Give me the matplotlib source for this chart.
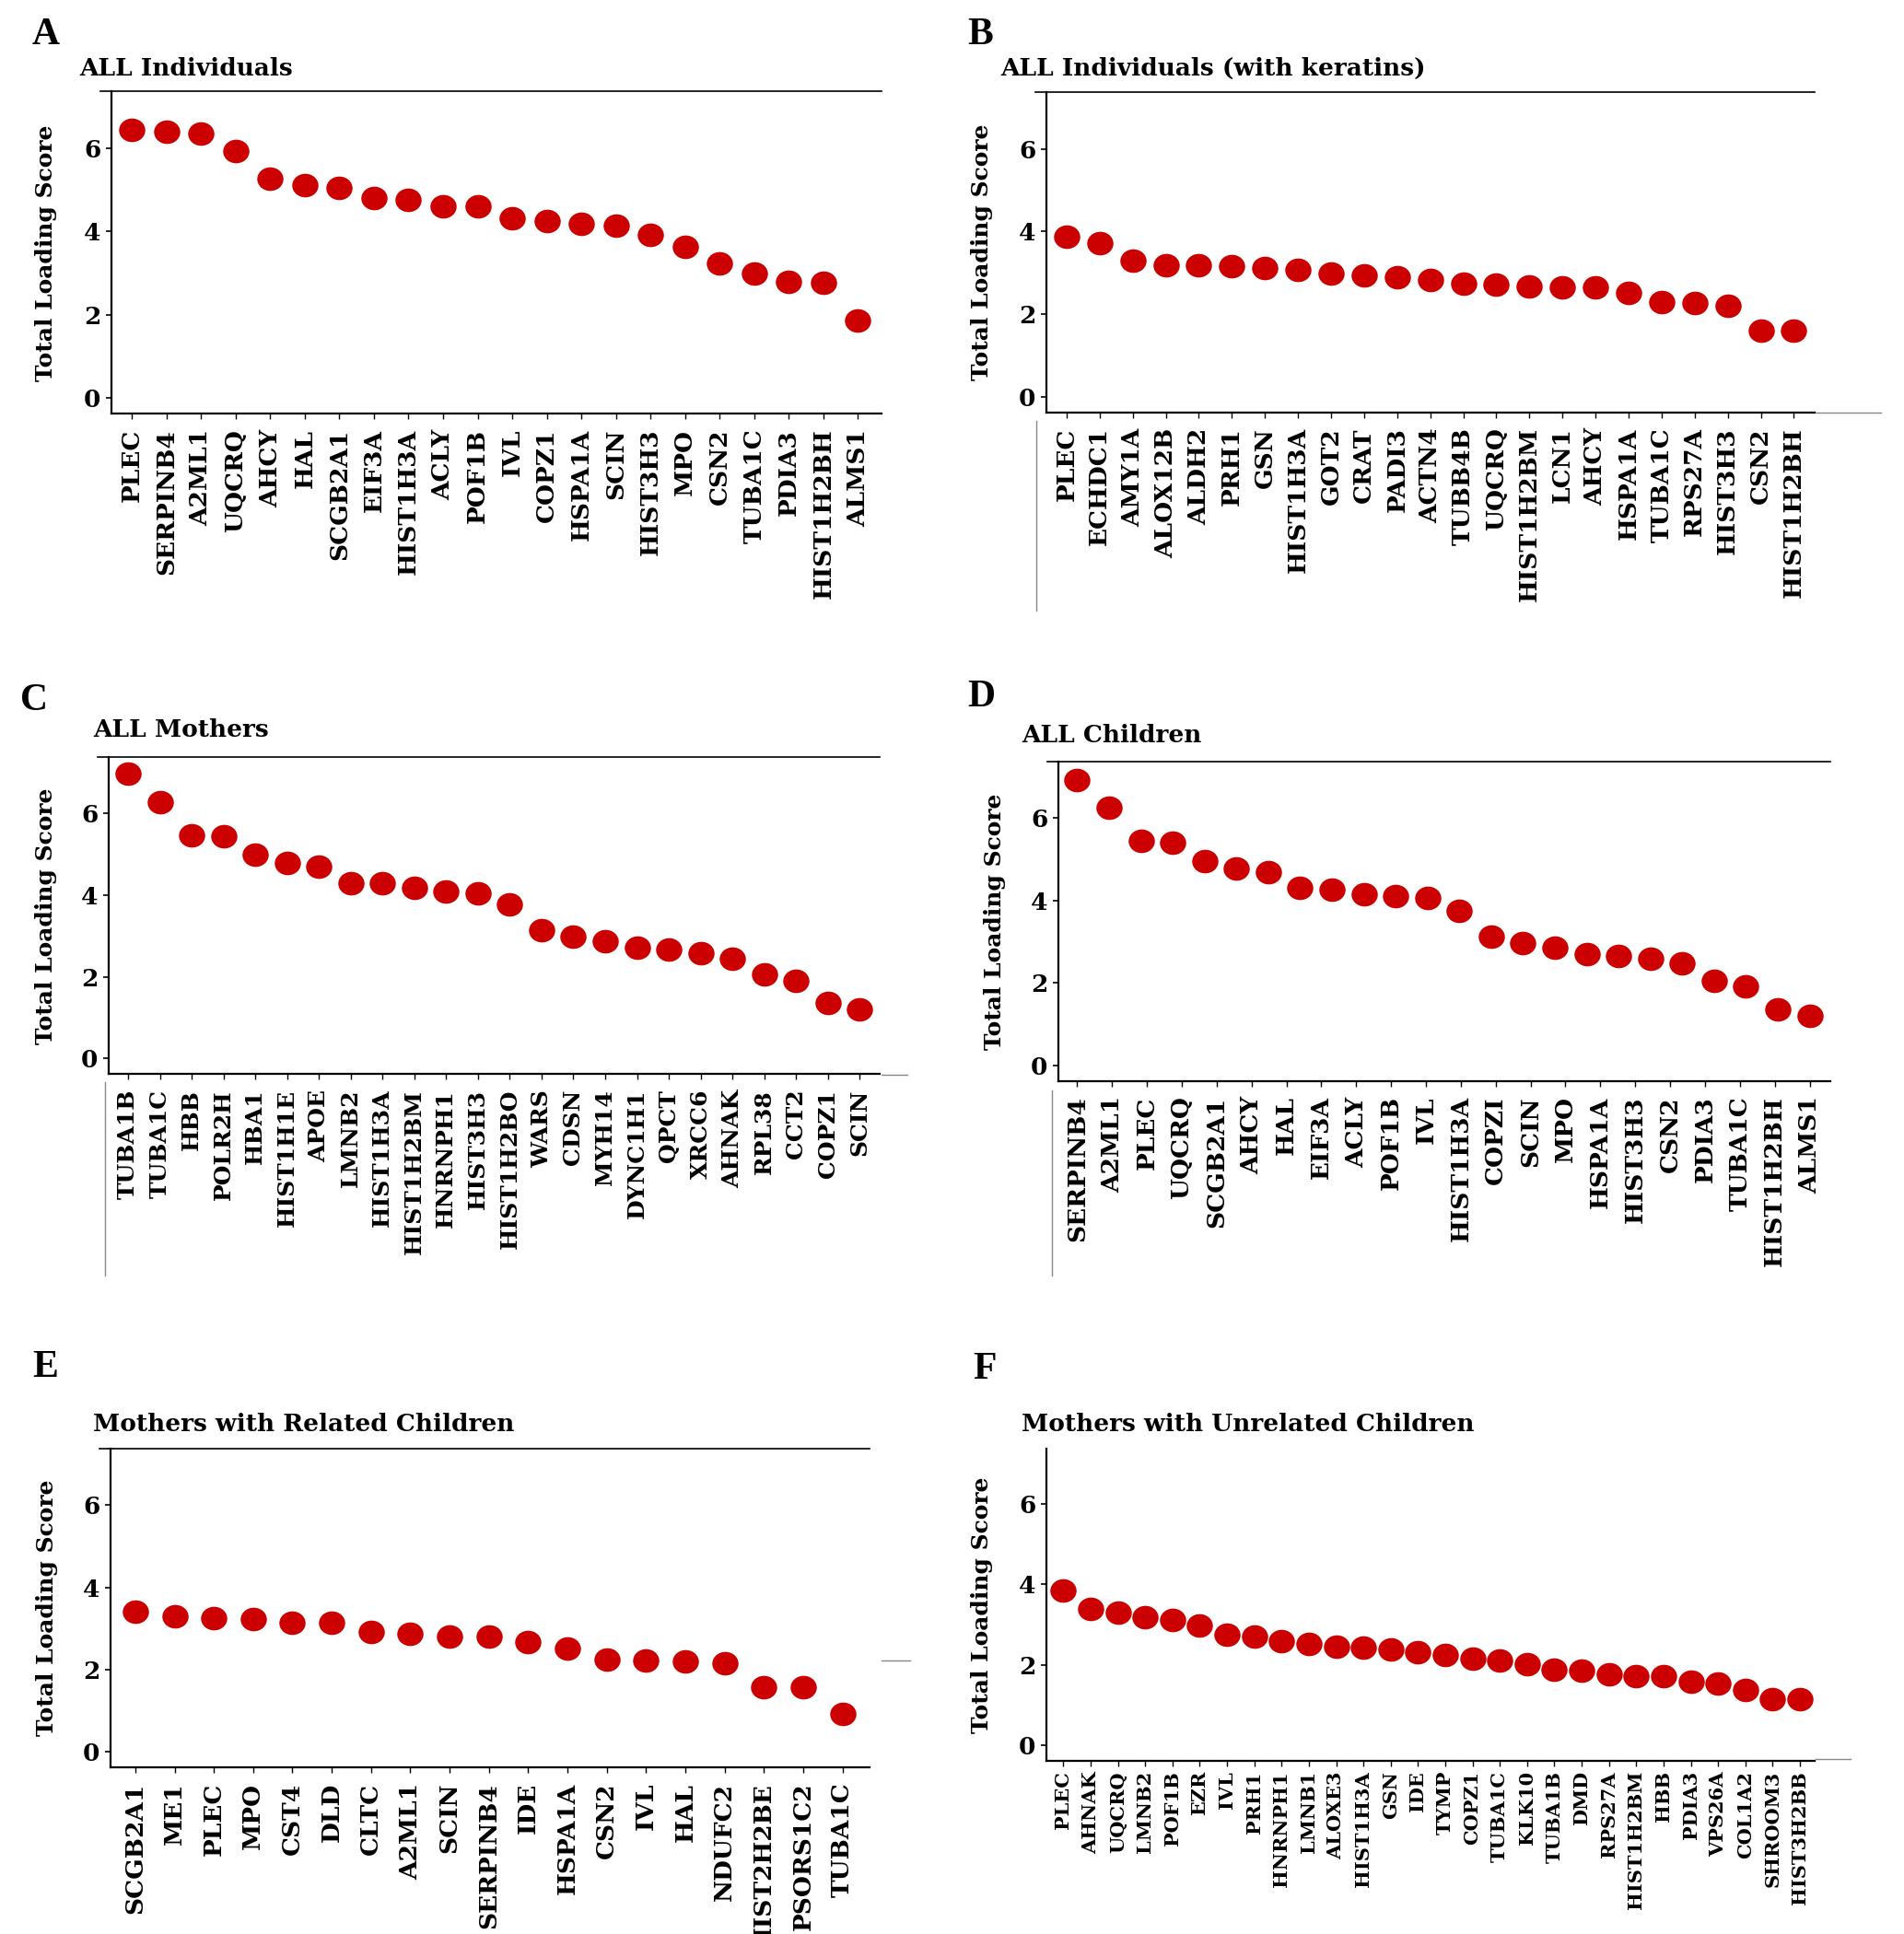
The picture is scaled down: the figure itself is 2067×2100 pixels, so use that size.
import numpy as np
import matplotlib
matplotlib.use("Agg")
import matplotlib.pyplot as plt
from matplotlib.lines import Line2D
from matplotlib.path import Path
from matplotlib.transforms import Affine2D

# =========================
# DATA
# =========================
genes_a = ["PLEC", "SERPINB4", "A2ML1", "UQCRQ", "AHCY", "HAL", "SCGB2A1", "EIF3A",
           "HIST1H3A", "ACLY", "POF1B", "IVL", "COPZ1", "HSPA1A", "SCIN", "HIST3H3",
           "MPO", "CSN2", "TUBA1C", "PDIA3", "HIST1H2BH", "ALMS1"]
score_a = [6.45, 6.40, 6.37, 5.94, 5.27, 5.13, 5.06, 4.81, 4.77, 4.62, 4.60, 4.33,
           4.26, 4.19, 4.14, 3.92, 3.63, 3.23, 3.00, 2.79, 2.76, 1.85]

genes_b = ["PLEC", "ECHDC1", "AMY1A", "ALOX12B", "ALDH2", "PRH1", "GSN", "HIST1H3A",
           "GOT2", "CRAT", "PADI3", "ACTN4", "TUBB4B", "UQCRQ", "HIST1H2BM", "LCN1",
           "AHCY", "HSPA1A", "TUBA1C", "RPS27A", "HIST3H3", "CSN2", "HIST1H2BH"]
score_b = [3.88, 3.71, 3.30, 3.19, 3.19, 3.15, 3.11, 3.07, 2.99, 2.93, 2.90, 2.82,
           2.74, 2.71, 2.67, 2.64, 2.64, 2.52, 2.30, 2.26, 2.19, 1.60, 1.60]

genes_c = ["TUBA1B", "TUBA1C", "HBB", "POLR2H", "HBA1", "HIST1H1E", "APOE", "LMNB2",
           "HIST1H3A", "HIST1H2BM", "HNRNPH1", "HIST3H3", "HIST1H2BO", "WARS", "CDSN",
           "MYH14", "DYNC1H1", "QPCT", "XRCC6", "AHNAK", "RPL38", "CCT2", "COPZ1", "SCIN"]
score_c = [6.96, 6.28, 5.45, 5.43, 4.99, 4.79, 4.69, 4.30, 4.28, 4.17, 4.09, 4.04,
           3.76, 3.13, 2.98, 2.86, 2.72, 2.66, 2.57, 2.44, 2.05, 1.91, 1.35, 1.20]

# panel D: 22 labels over 24 points (as in the original figure)
genes_d = ["SERPINB4", "A2ML1", "PLEC", "UQCRQ", "SCGB2A1", "AHCY", "HAL", "EIF3A",
           "ACLY", "POF1B", "IVL", "HIST1H3A", "COPZI", "SCIN", "MPO", "HSPA1A",
           "HIST3H3", "CSN2", "PDIA3", "TUBA1C", "HIST1H2BH", "ALMS1"]
score_d = [6.92, 6.25, 5.44, 5.41, 4.96, 4.77, 4.68, 4.30, 4.26, 4.16, 4.10, 4.06,
           3.75, 3.12, 2.97, 2.86, 2.70, 2.65, 2.58, 2.47, 2.04, 1.92, 1.35, 1.21]

genes_e = ["SCGB2A1", "ME1", "PLEC", "MPO", "CST4", "DLD", "CLTC", "A2ML1", "SCIN",
           "SERPINB4", "IDE", "HSPA1A", "CSN2", "IVL", "HAL", "NDUFC2", "HIST2H2BE",
           "PSORS1C2", "TUBA1C"]
score_e = [3.40, 3.30, 3.26, 3.22, 3.14, 3.14, 2.92, 2.88, 2.81, 2.81, 2.67, 2.52,
           2.25, 2.23, 2.19, 2.15, 1.58, 1.58, 0.91]

genes_f = ["PLEC", "AHNAK", "UQCRQ", "LMNB2", "POF1B", "EZR", "IVL", "PRH1", "HNRNPH1",
           "LMNB1", "ALOXE3", "HIST1H3A", "GSN", "IDE", "TYMP", "COPZ1", "TUBA1C",
           "KLK10", "TUBA1B", "DMD", "RPS27A", "HIST1H2BM", "HBB", "PDIA3", "VPS26A",
           "COL1A2", "SHROOM3", "HIST3H2BB"]
score_f = [3.85, 3.40, 3.30, 3.19, 3.11, 2.97, 2.75, 2.71, 2.60, 2.53, 2.46, 2.42,
           2.38, 2.31, 2.24, 2.16, 2.10, 2.02, 1.88, 1.85, 1.77, 1.73, 1.72, 1.59,
           1.55, 1.39, 1.15, 1.15]

titles = ["ALL Individuals", "ALL Individuals (with keratins)", "ALL Mothers",
          "ALL Children", "Mothers with Related Children", "Mothers with Unrelated Children"]
letters = ["A", "B", "C", "D", "E", "F"]

# =========================
# LAYOUT (pixels)
# =========================
W, H = 2067, 2100
RED = "#cc0000"
SERIF = "DejaVu Serif"

fig = plt.figure(figsize=(W / 100, H / 100), dpi=100)

def fx(x):
    return x / W

def fy(y):
    return 1 - y / H

# left, right, top, bottom, left margin, right margin, tick font, label pad
panels = [
    (121, 957, 99.5, 449, 0.59, 0.68, 19, 8),
    (1136, 1970, 100.4, 447.6, 0.61, 0.63, 19, 8),
    (118, 955, 822.3, 1166.2, 0.61, 0.63, 18, 8),
    (1149, 1987, 827, 1173.7, 0.59, 0.65, 19, 8),
    (120, 944, 1573.3, 1919, 0.63, 0.69, 19, 8),
    (1136, 1970, 1572.8, 1912, 0.62, 0.54, 15, 4),
]
letter_pos = [(35, 19), (1050, 19), (22, 742), (1050, 738), (35, 1466), (1056, 1468)]
title_pos = [(86, 74), (1086, 74), (101, 792), (1109, 798), (101, 1547), (1109, 1547)]
ylabel_x = [50, 1066, 50, 1080, 51, 1066]

data = [(genes_a, score_a), (genes_b, score_b), (genes_c, score_c),
        (genes_d, score_d), (genes_e, score_e), (genes_f, score_f)]

oval = Path.unit_circle().transformed(Affine2D().scale(1.0, 0.9))

for i, ((genes, score), p) in enumerate(zip(data, panels)):
    xl, xr, yt, yb, ml, mr, tfs, lpad = p
    ax = fig.add_axes([fx(xl), fy(yb), fx(xr - xl), (yb - yt) / H])
    x = np.arange(len(score))
    ax.plot(x, score, linestyle="none", marker=oval, markersize=20.5,
            color=RED, markeredgewidth=0)
    ax.set_xlim(-ml, len(score) - 1 + mr)
    ax.set_ylim(-0.38, 7.37)

    if len(genes) == len(score):
        ticks = x
    else:
        ticks = np.linspace(0, len(score) - 1, len(genes))
    ax.set_xticks(ticks)
    ax.set_xticklabels(genes, rotation=90, fontsize=tfs, fontweight="bold", family=SERIF)
    ax.set_yticks([0, 2, 4, 6])
    ax.set_yticklabels(["0", "2", "4", "6"], fontsize=19, fontweight="bold", family=SERIF)
    ax.tick_params(axis="x", length=4, width=1, pad=lpad)
    ax.tick_params(axis="y", length=4.5, width=1.2, pad=4)

    ax.spines["right"].set_visible(False)
    ax.spines["top"].set_visible(False)
    ax.spines["left"].set_linewidth(1.6)
    ax.spines["bottom"].set_linewidth(1.6)

    # title rule above the plot (not in F)
    if i != 5:
        ext = 12 / (xr - xl)
        ax.add_line(Line2D([-ext, 1.0], [1.0, 1.0], transform=ax.transAxes,
                           color="black", lw=1.2, clip_on=False))

    fig.text(fx(ylabel_x[i]), fy((yt + yb) / 2), "Total Loading Score", rotation=90,
             ha="center", va="center", fontsize=18, fontweight="bold", family=SERIF)
    fig.text(fx(title_pos[i][0]), fy(title_pos[i][1]), titles[i], ha="left", va="center",
             fontsize=19, fontweight="bold", family=SERIF)
    fig.text(fx(letter_pos[i][0]), fy(letter_pos[i][1]), letters[i], ha="left", va="top",
             fontsize=30, fontweight="bold", family="Liberation Serif")

# leftover rules from the original composite
gray_lines = [
    ((1971, 2042), (447.5, 447.5)),
    ((1125, 1125), (457, 663)),
    ((957, 985), (1166.5, 1166.5)),
    ((113.5, 113.5), (1175, 1385)),
    ((1142, 1142), (1184, 1385)),
    ((957, 988), (1803, 1803)),
    ((1971, 2009), (1910, 1910)),
]
for (xs, ys) in gray_lines:
    fig.add_artist(Line2D([fx(v) for v in xs], [fy(v) for v in ys],
                          transform=fig.transFigure, color="#888888", lw=1.0))

fig.savefig("out.png", dpi=100, facecolor="white")
